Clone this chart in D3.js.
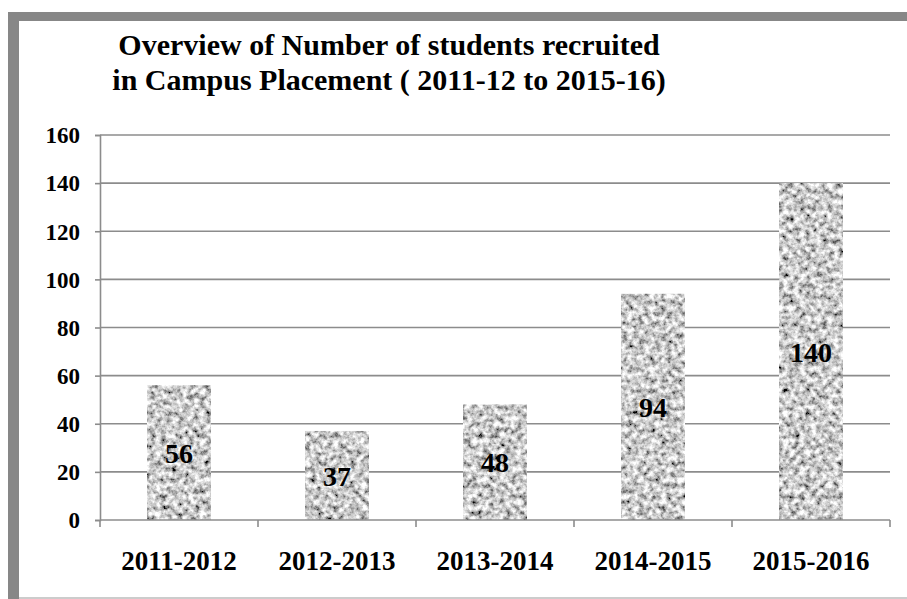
<!DOCTYPE html>
<html lang="en">
  <head>
    <meta charset="UTF-8" />
    <title>Campus Placement Overview</title>
    <script src="https://d3js.org/d3.v7.min.js"></script>
    <style>
      body { margin: 0; background: #fff; }
      svg text { font-family: "Liberation Serif", "Times New Roman", serif; font-weight: bold; fill: #000; }
    </style>
  </head>
  <body>
    <svg id="chart" width="907" height="599"></svg>

    <script>
      const years = ["2011-2012", "2012-2013", "2013-2014", "2014-2015", "2015-2016"];
      const recruited = [56, 37, 48, 94, 140];
      const yTicks = [0, 20, 40, 60, 80, 100, 120, 140, 160];
      const titleLines = [
        "Overview of Number of students recruited",
        "in Campus Placement ( 2011-12 to 2015-16)"
      ];

      const svg = d3.select("#chart");

      // frame around the chart (left and top thick, bottom thin)
      svg.append("rect").attr("x", 8).attr("y", 12).attr("width", 11).attr("height", 587).attr("fill", "#878787");
      svg.append("rect").attr("x", 8).attr("y", 12).attr("width", 899).attr("height", 9).attr("fill", "#878787");
      svg.append("line").attr("x1", 19).attr("x2", 907).attr("y1", 598).attr("y2", 598)
        .attr("stroke", "#999").attr("stroke-width", 1);

      // granite-like texture
      const defs = svg.append("defs");
      const f = defs.append("filter").attr("id", "granite")
        .attr("x", 0).attr("y", 0).attr("width", 1).attr("height", 1);
      f.append("feTurbulence").attr("type", "fractalNoise")
        .attr("baseFrequency", 0.18).attr("numOctaves", 4).attr("seed", 7).attr("result", "noise");
      f.append("feColorMatrix").attr("in", "noise").attr("type", "matrix")
        .attr("values", "1.8 0 0 0 -0.3  1.8 0 0 0 -0.3  1.8 0 0 0 -0.3  0 0 0 0 1")
        .attr("result", "gray");
      f.append("feComposite").attr("in", "gray").attr("in2", "SourceGraphic").attr("operator", "in");

      const plotL = 100, plotR = 890, plotT = 135, plotB = 520;

      const x = d3.scaleBand().domain(years).range([plotL, plotR]).paddingInner(0.595).paddingOuter(0.2975);
      const xOuter = d3.scaleBand().domain(years).range([plotL, plotR]);
      const y = d3.scaleLinear().domain([0, 160]).range([plotB, plotT]);

      // gridlines
      svg.append("g").selectAll("line").data(yTicks.filter(d => d > 0)).enter().append("line")
        .attr("x1", plotL).attr("x2", plotR)
        .attr("y1", d => y(d)).attr("y2", d => y(d))
        .attr("stroke", "#8c8c8c").attr("stroke-width", 1.6);

      // y axis
      const yAxis = svg.append("g").attr("transform", `translate(${plotL},0)`)
        .call(d3.axisLeft(y).tickValues(yTicks).tickSize(5).tickPadding(15));
      yAxis.attr("font-family", null).attr("font-size", null);
      yAxis.select(".domain").attr("stroke", "#8c8c8c").attr("stroke-width", 1.6);
      yAxis.selectAll(".tick line").attr("stroke", "#8c8c8c").attr("stroke-width", 1.6);
      yAxis.selectAll(".tick text").style("font-size", "23px").attr("dy", "0.34em");

      // bars
      svg.append("g").selectAll("rect").data(recruited).enter().append("rect")
        .attr("x", (d, i) => x(years[i]))
        .attr("width", x.bandwidth())
        .attr("y", d => y(d))
        .attr("height", d => y(0) - y(d))
        .attr("fill", "#aaa")
        .attr("filter", "url(#granite)");

      // x axis
      svg.append("line").attr("x1", plotL).attr("x2", plotR).attr("y1", plotB).attr("y2", plotB)
        .attr("stroke", "#8c8c8c").attr("stroke-width", 1.6);
      const bounds = years.map(d => xOuter(d)).concat([plotR]);
      svg.append("g").selectAll("line").data(bounds).enter().append("line")
        .attr("x1", d => d).attr("x2", d => d).attr("y1", plotB).attr("y2", plotB + 7)
        .attr("stroke", "#8c8c8c").attr("stroke-width", 1.6);

      svg.append("g").selectAll("text").data(years).enter().append("text")
        .attr("x", d => xOuter(d) + xOuter.bandwidth() / 2)
        .attr("y", 570)
        .attr("text-anchor", "middle")
        .style("font-size", "27px")
        .text(d => d);

      // value labels inside bars
      svg.append("g").selectAll("text").data(recruited).enter().append("text")
        .attr("x", (d, i) => x(years[i]) + x.bandwidth() / 2)
        .attr("y", d => (y(d) + y(0)) / 2)
        .attr("dy", "0.36em")
        .attr("text-anchor", "middle")
        .style("font-size", "28px")
        .text(d => d);

      // title
      svg.append("g").selectAll("text").data(titleLines).enter().append("text")
        .attr("x", 389)
        .attr("y", (d, i) => 55 + i * 35)
        .attr("text-anchor", "middle")
        .style("font-size", "30px")
        .text(d => d);
    </script>
  </body>
</html>
